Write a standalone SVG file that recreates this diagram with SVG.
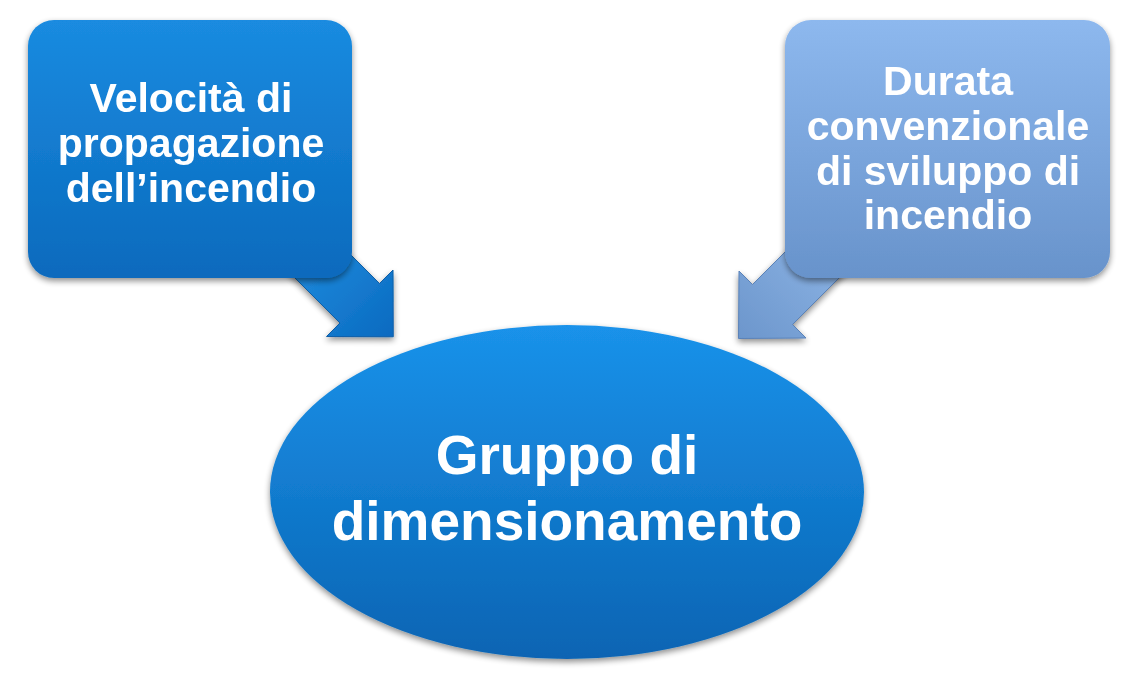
<svg xmlns="http://www.w3.org/2000/svg" width="1139" height="685" viewBox="0 0 1139 685">
<defs>
<linearGradient id="gBlue" x1="0" y1="0" x2="0" y2="1">
<stop offset="0" stop-color="#1a8be0"/>
<stop offset="1" stop-color="#0a6abd"/>
</linearGradient>
<linearGradient id="gLight" x1="0" y1="0" x2="0" y2="1">
<stop offset="0" stop-color="#8db8ee"/>
<stop offset="1" stop-color="#6893cb"/>
</linearGradient>
<linearGradient id="gEll" x1="0" y1="0" x2="0" y2="1">
<stop offset="0" stop-color="#1a92ea"/>
<stop offset="1" stop-color="#0964b3"/>
</linearGradient>
<linearGradient id="gArrL" x1="0" y1="0" x2="1" y2="1">
<stop offset="0" stop-color="#2a9cec"/>
<stop offset="1" stop-color="#0a6ac0"/>
</linearGradient>
<linearGradient id="gArrR" x1="1" y1="0" x2="0" y2="1">
<stop offset="0" stop-color="#9cc2f0"/>
<stop offset="1" stop-color="#6c96cc"/>
</linearGradient>
<filter id="sh" x="-10%" y="-10%" width="120%" height="125%">
<feGaussianBlur in="SourceAlpha" stdDeviation="3"/>
<feOffset dx="0" dy="3" result="b"/>
<feComponentTransfer><feFuncA type="linear" slope="0.45"/></feComponentTransfer>
<feMerge><feMergeNode/><feMergeNode in="SourceGraphic"/></feMerge>
</filter>
</defs>
<style>
.t{font-family:"Liberation Sans",Arial,sans-serif;font-weight:bold;fill:#ffffff;text-anchor:middle}
.s{font-size:41px}
.b{font-size:55px}
</style>
<rect width="1139" height="685" fill="#ffffff"/>
<g id="connectors" filter="url(#sh)">
<polygon fill="url(#gArrL)" stroke="#0a5ea8" stroke-width="1" points="298,202 379.5,283.5 393,270 393.25,336.75 326.5,336.5 340,323 258.5,241.5"/>
<polygon fill="url(#gArrR)" stroke="#5a82b8" stroke-width="1" points="843.5,193.5 752.5,284.5 739,271 738.5,338.5 806,338 792.5,324.5 883.5,233.5"/>
</g>
<g id="node-velocita" filter="url(#sh)">
<rect x="28" y="20" width="324" height="258" rx="26" ry="26" fill="url(#gBlue)"/>
<text class="t s" x="191" y="112">Velocità di</text>
<text class="t s" x="191" y="157">propagazione</text>
<text class="t s" x="191" y="202">dell’incendio</text>
</g>
<g id="node-durata" filter="url(#sh)">
<rect x="785" y="20" width="325" height="258" rx="26" ry="26" fill="url(#gLight)"/>
<text class="t s" x="948" y="95">Durata</text>
<text class="t s" x="948" y="140">convenzionale</text>
<text class="t s" x="948" y="185">di sviluppo di</text>
<text class="t s" x="948" y="229">incendio</text>
</g>
<g id="node-gruppo" filter="url(#sh)">
<ellipse cx="567" cy="492" rx="297" ry="167" fill="url(#gEll)"/>
<text class="t b" x="567" y="474">Gruppo di</text>
<text class="t b" x="567" y="540">dimensionamento</text>
</g>
</svg>
